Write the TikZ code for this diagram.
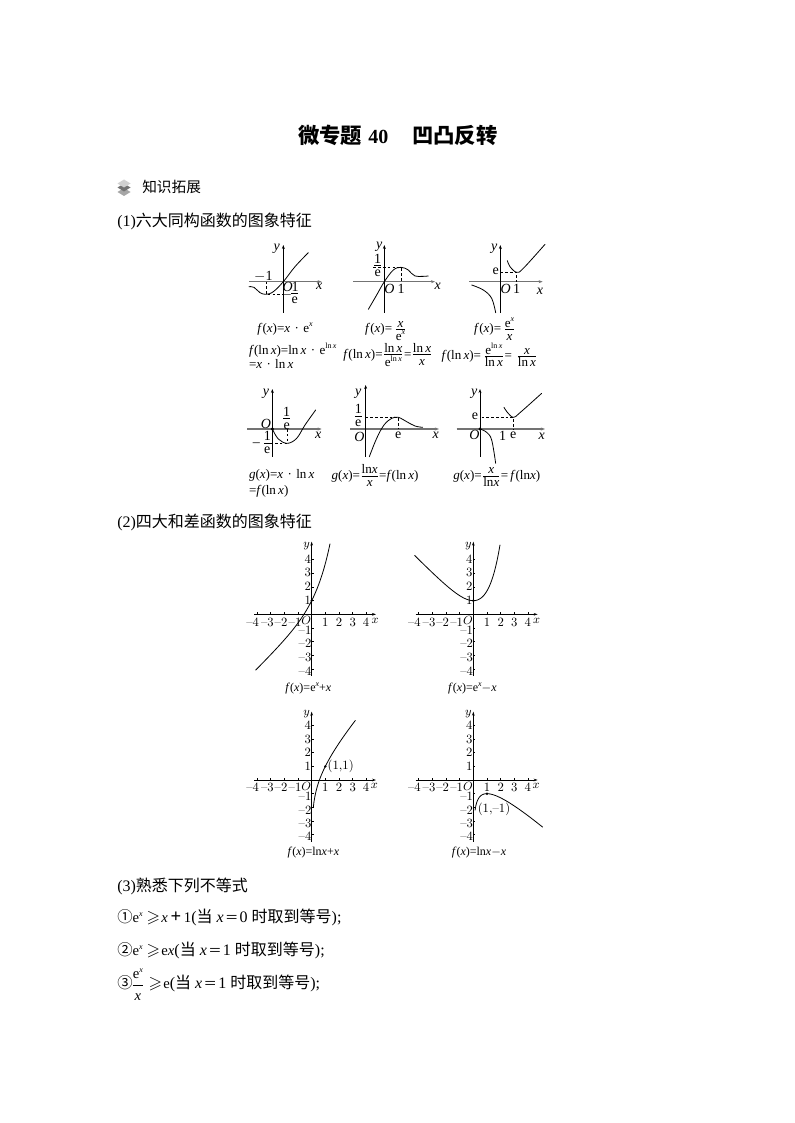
\documentclass[tikz,border=0pt]{standalone}
\usepackage{amssymb}
\usepackage{fontspec}
\newfontfamily\ls{Liberation Serif}
\newfontfamily\cjk{Noto Sans CJK SC}
\usetikzlibrary{arrows.meta}
\newcounter{lblc}
\newcommand\lab[3][]{\stepcounter{lblc}\node[txt,#1] (n\arabic{lblc}) at (#2) {#3};}
\newcommand\fr[2]{$\frac{\hbox{\rule{0pt}{7pt}#1}}{\hbox{\rule{0pt}{7.6pt}#2}}$}
\newcommand\iv[1]{\textit{#1}}
\newcommand\up[1]{\raisebox{.9ex}{\fontsize{6pt}{6pt}\selectfont #1}}
\newcommand\fs[1]{\fontsize{#1pt}{#1pt}\selectfont}
\newcommand\lnx{ln\,\iv{x}}
\tikzset{
 txt/.style={inner sep=0pt,outer sep=0pt,font=\ls\fs{10.5}},
 form/.style={inner sep=0pt,font=\ls\fs{9.8}},
 body/.style={anchor=west,inner sep=0pt,font=\ls\fs{12}},
 gaxis/.style={line width=.8pt,draw=black!55,-{Stealth[length=3pt,width=2.2pt]}},
 vaxis/.style={line width=.6pt,draw=black,-{Stealth[length=3pt,width=2.2pt]}},
 curve/.style={line width=.6pt,draw=black,line cap=round},
 guide/.style={line width=.5pt,draw=black,dash pattern=on 2pt off 1.6pt},
 aaxis/.style={line width=.5pt,draw=black,-{Stealth[length=3pt,width=2pt]}},
 tickmark/.style={line width=.45pt,draw=black},
 tk/.style={inner sep=0pt,font=\fs{9.5}},
 captxt/.style={inner sep=0pt,font=\ls\fs{9}},
 zoomA/.style={shift={(230,230)},x=.25pt,y=-.25pt},
 zoomB/.style={shift={(230,375)},x=.25pt,y=-.25pt},
 zoomC/.style={shift={(240,535)},x=.25pt,y=-.25pt},
 zoomD/.style={shift={(240,700)},x=.25pt,y=-.25pt},
}
\newcommand\ticks{%
 \foreach \k in {-4,-3,-2,-1,1,2,3,4}{
  \draw[tickmark] (\k*41,0) -- (\k*41,-6);
  \draw[tickmark] (0,\k*41) -- (6,\k*41);
 }%
 \draw[aaxis] (-173,0) -- (193,0);
}
\newcommand\bigge{\fs{13}$\geqslant$\fs{11}}
\begin{document}
\begin{tikzpicture}[x=.75pt,y=-.75pt]
\useasboundingbox (0,0) rectangle (794,1123);
\fill[white] (0,0) rectangle (794,1123);
% title
\node[inner sep=0pt,anchor=west] (title) at (298,135) {\fs{16}\cjk\bfseries 微专题\hspace{4.5pt}{\ls\bfseries\fs{15}40}\hspace{18pt}凹凸反转};
% stack icon
\foreach \yy/\cc in {192/35,187.5/55,183.5/18}{
 \fill[black!\cc] (117.5,\yy) -- (124,\yy-4) -- (130.5,\yy) -- (124,\yy+4) -- cycle;
}
\node[inner sep=0pt,anchor=west] (sec) at (142,187) {\fs{11}\cjk 知识拓展};
\node[body] (h1) at (117,221) {(1){\cjk 六大同构函数的图象特征}};
\node[body] (h2) at (117,522) {(2){\cjk 四大和差函数的图象特征}};
\node[body] (h3) at (117,886) {(3){\cjk 熟悉下列不等式}};
\node[body] (l1) at (117,917) {{\fs{11.5}\cjk ①}\fs{11}e\up{\iv{x}}\hspace{3pt}\bigge\hspace{1pt}\iv{x}\hspace{2pt}{\fs{14}\textbf{+}}\hspace{2pt}1\fs{12}({\cjk 当}\hspace{3pt}\iv{x}\hspace{1pt}{\fs{10}\cjk ＝}\hspace{1pt}0\hspace{3pt}{\cjk 时取到等号});};
\node[body] (l2) at (117,950) {{\fs{11.5}\cjk ②}\fs{11}e\up{\iv{x}}\hspace{3pt}\bigge\hspace{1pt}e\iv{x}\fs{12}({\cjk 当}\hspace{3pt}\iv{x}\hspace{1pt}{\fs{10}\cjk ＝}\hspace{1pt}1\hspace{3pt}{\cjk 时取到等号});};
\node[body] (l3) at (117,985) {{\fs{11.5}\cjk ③}\hspace{-1pt}\fs{11}$\frac{\hbox{e\up{\iv{x}}\rule[-4pt]{0pt}{9pt}}}{\hbox{\rule{0pt}{11pt}\iv{x}}}$\hspace{3pt}\bigge\hspace{1pt}e\fs{12}({\cjk 当}\hspace{3pt}\iv{x}\hspace{1pt}{\fs{10}\cjk ＝}\hspace{1pt}1\hspace{3pt}{\cjk 时取到等号});};

% ---- top row
\begin{scope}[zoomA]
 \draw[gaxis] (57,155) -- (275,155);
 \draw[vaxis] (160,248) -- (160,45);
 \draw[guide] (108,155) -- (108,193) -- (160,193);
 \draw[curve] plot[smooth,tension=.6] coordinates {(57,170)(72,172)(90,188)(108,193)(130,185)(160,155)(195,110)(235,68)};
 \lab{140,57}{\iv{y}}\lab{100,140}{$-$1}\lab{173,172}{\iv{O}}\lab{195,172}{1}
 \lab{170,194}{$-$}\lab{194,212}{e}\lab{268,170}{\iv{x}}
 \draw[line width=.4pt] (184,190) -- (205,190);
 \draw[gaxis] (370,155) -- (615,155);
 \draw[vaxis] (463,248) -- (463,45);
 \draw[guide] (430,112) -- (513,112) -- (513,155);
 \draw[curve] plot[smooth,tension=.6] coordinates {(415,238)(440,195)(463,155)(490,120)(513,112)(535,120)(555,138)(595,138)};
 \lab{448,50}{\iv{y}}\lab{443,105}{\fr{1}{e}}\lab{478,176}{\iv{O}}\lab{513,176}{1}\lab{623,170}{\iv{x}}
 \draw[gaxis] (718,155) -- (938,155);
 \draw[vaxis] (811,248) -- (811,45);
 \draw[guide] (811,127) -- (860,127) -- (860,155);
 \draw[curve] plot[smooth,tension=.6] coordinates {(832,92)(840,110)(860,127)(880,115)(945,43)};
 \draw[curve] plot[smooth,tension=.6] coordinates {(725,165)(760,180)(785,205)(797,248)};
 \lab{793,57}{\iv{y}}\lab{797,125}{e}\lab{827,178}{\iv{O}}\lab{860,178}{1}\lab{930,183}{\iv{x}}
 \lab[form]{165,297}{\iv{f}(\iv{x})=\iv{x}\,\,·\,\,e\up{\iv{x}}}
 \lab[form]{468,297}{\iv{f}(\iv{x})=\,\fr{\iv{x}}{e\up{\iv{x}}}}
 \lab[form]{795,297}{\iv{f}(\iv{x})=\,\fr{e\up{\iv{x}}}{\iv{x}}}
 \lab[form,anchor=west]{57,360}{\iv{f}(\lnx)=\lnx\,\,·\,\,e\up{ln\,\iv{x}}}
 \lab[form,anchor=west]{57,403}{=\iv{x}\,\,·\,\,\lnx}
 \lab[form,anchor=west]{340,375}{\iv{f}(\lnx)=\fr{\lnx}{e\up{ln\,\iv{x}}}=\fr{\lnx}{\iv{x}}}
 \lab[form,anchor=west]{635,375}{\iv{f}(\lnx)=\,\fr{e\up{ln\,\iv{x}}}{\lnx}=\,\,\fr{\iv{x}}{\lnx}}
\end{scope}

% ---- second row
\begin{scope}[zoomB]
 \draw[gaxis] (52,162) -- (275,162);
 \draw[vaxis] (127,245) -- (127,42);
 \draw[guide] (172,162) -- (172,205) -- (115,205);
 \draw[curve] plot[smooth,tension=.6] coordinates {(127,162)(145,192)(172,205)(200,190)(225,150)(257,105)};
 \fill (127,162) circle (5);
 \lab{108,55}{\iv{y}}\lab{108,148}{\iv{O}}\lab{170,130}{\fr{1}{e}}\lab{98,203}{–\,\fr{1}{e}}\lab{265,180}{\iv{x}}
 \draw[gaxis] (360,162) -- (627,162);
 \draw[vaxis] (407,245) -- (407,30);
 \draw[guide] (407,127) -- (505,127) -- (505,162);
 \draw[curve] plot[smooth,tension=.6] coordinates {(418,245)(440,190)(462,150)(485,130)(505,127)(530,140)(555,153)(578,157)};
 \lab{385,55}{\iv{y}}\lab{385,122}{\fr{1}{e}}\lab{388,185}{\iv{O}}\lab{505,182}{e}\lab{617,182}{\iv{x}}
 \draw[gaxis] (680,162) -- (945,162);
 \draw[vaxis] (750,245) -- (750,42);
 \draw[guide] (755,127) -- (850,127) -- (850,162);
 \draw[curve] plot[smooth,tension=.6] coordinates {(822,97)(832,112)(850,127)(870,113)(935,55)};
 \draw[curve] plot[smooth,tension=.6] coordinates {(750,162)(770,172)(785,195)(797,265)};
 \fill (750,162) circle (5);
 \lab{733,55}{\iv{y}}\lab{735,125}{e}\lab{733,180}{\iv{O}}\lab{818,183}{1}\lab{850,180}{e}\lab{935,183}{\iv{x}}
 \lab[form,anchor=west]{57,302}{\iv{g}(\iv{x})=\iv{x}\,\,·\,\,\lnx}
 \lab[form,anchor=west]{57,350}{=\iv{f}(\lnx)}
 \lab[form,anchor=west]{305,302}{\iv{g}(\iv{x})=\fr{ln\iv{x}}{\iv{x}}=\iv{f}(\lnx)}
 \lab[form,anchor=west]{670,302}{\iv{g}(\iv{x})=\fr{\iv{x}}{ln\iv{x}}=\,\iv{f}(ln\iv{x})}
\end{scope}

% ---- e^x +/- x
\begin{scope}[zoomC]
 \begin{scope}[shift={(215,238)}]
  \ticks
  \draw[aaxis] (0,184) -- (0,-218);
  \draw[curve] plot[domain=-4.1:1.34,samples=60] ({\x*41},{-41*(exp(\x)+\x)});
  \fill (0,-41) circle (4);
 \end{scope}
 \begin{scope}[shift={(700,238)}]
  \ticks
  \draw[aaxis] (0,184) -- (0,-218);
  \draw[curve] plot[domain=-4.3:1.95,samples=60] ({\x*41},{-41*(exp(\x)-\x)});
  \fill (0,-41) circle (4);
 \end{scope}
 \foreach \ox/\nn in {215/a,700/b}{
  \foreach \v/\dx in {4/-177,3/-133,2/-92,1/-50}{
   \node[tk] (xm\nn\v) at (\ox+\dx,262) {--\v};
  }
  \foreach \v/\dx in {1/41,2/82,3/123,4/163}{
   \node[tk] (xp\nn\v) at (\ox+\dx,262) {\v};
  }
  \foreach \v/\yy in {4/72,3/113,2/155,1/197}{
   \node[tk] (yp\nn\v) at (\ox-12,\yy) {\v};
  }
  \foreach \v/\yy in {1/285,2/325,3/367,4/408}{
   \node[tk] (ym\nn\v) at (\ox-20,\yy) {--\v};
  }
  \node[tk] (o\nn) at (\ox-16,256) {$O$};
  \node[tk] (xl\nn) at (\ox+190,258) {$x$};
  \node[tk] (yl\nn) at (\ox-15,33) {$y$};
 }
 \lab[captxt]{205,460}{\iv{f}(\iv{x})=e\up{\iv{x}}+\iv{x}}
 \lab[captxt]{697,460}{\iv{f}(\iv{x})=e\up{\iv{x}}$-$\iv{x}}
\end{scope}

% ---- ln x +/- x
\begin{scope}[zoomD]
 \begin{scope}[shift={(215,240)}]
  \ticks
  \draw[aaxis] (0,185) -- (0,-205);
  \draw[curve] plot[domain=.125:3.2,samples=80] ({\x*41},{-41*(ln(\x)+\x)});
  \fill (41,-41) circle (4);
 \end{scope}
 \begin{scope}[shift={(700,240)}]
  \ticks
  \draw[aaxis] (0,185) -- (0,-205);
  \draw[curve] plot[domain=.125:5.07,samples=80] ({\x*41},{-41*(ln(\x)-\x)});
  \fill (41,41) circle (4);
 \end{scope}
 \foreach \ox/\nn in {215/c,700/d}{
  \foreach \v/\dx in {4/-177,3/-133,2/-92,1/-50}{
   \node[tk] (xm\nn\v) at (\ox+\dx,263) {--\v};
  }
  \foreach \v/\dx in {1/41,2/82,3/123,4/163}{
   \node[tk] (xp\nn\v) at (\ox+\dx,263) {\v};
  }
  \foreach \v/\yy in {4/76,3/118,2/157,1/199}{
   \node[tk] (yp\nn\v) at (\ox-12,\yy) {\v};
  }
  \foreach \v/\yy in {1/288,2/330,3/370,4/410}{
   \node[tk] (ym\nn\v) at (\ox-20,\yy) {--\v};
  }
  \node[tk] (o\nn) at (\ox-16,260) {$O$};
  \node[tk] (xl\nn) at (\ox+188,257) {$x$};
  \node[tk] (yl\nn) at (\ox-15,43) {$y$};
 }
 \node[tk] (pa) at (302,200) {(1,1)};
 \node[tk] (pb) at (762,328) {(1,--1)};
 \lab[captxt]{220,457}{\iv{f}(\iv{x})=ln\iv{x}+\iv{x}}
 \lab[captxt]{717,457}{\iv{f}(\iv{x})=ln\iv{x}$-$\iv{x}}
\end{scope}
\end{tikzpicture}
\end{document}
